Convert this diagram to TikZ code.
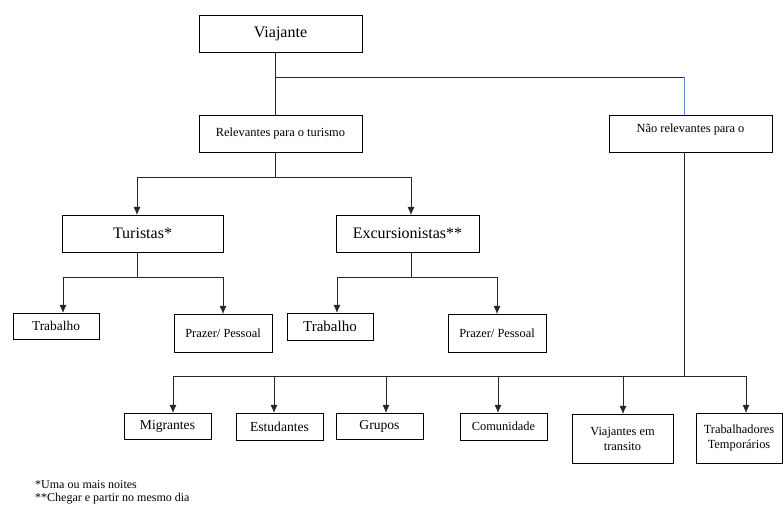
\documentclass[tikz,border=0pt]{standalone}
\usepackage{fontspec}
\setmainfont{Liberation Serif}
\newfontfamily\serifa{Liberation Serif}
\usetikzlibrary{positioning}
\usetikzlibrary{calc}
\usetikzlibrary{arrows.meta}
\definecolor{azul}{RGB}{95,140,215}

\begin{document}
\begin{tikzpicture}[x=1pt,y=-1pt,font=\serifa]
\tikzstyle{caixa}=[rectangle,draw=black,thin,inner sep=1pt,align=center]
\tikzstyle{grande}=[caixa,font=\serifa\fontsize{16}{18}\selectfont]
\tikzstyle{medio}=[caixa,font=\serifa\fontsize{12.4}{15}\selectfont]
\tikzstyle{liga}=[draw=black!85,thin]
\tikzstyle{seta}=[liga,-{Latex[length=8pt,width=7pt]}]
\useasboundingbox (0,0) rectangle (784,506);

% topo
\node[grande,minimum width=163pt,minimum height=37pt](viaj) at (280.5,33.5){Viajante};
\node[medio,minimum width=163pt,minimum height=37pt](rel) at (280.5,133.5){Relevantes para o turismo};
\node[medio,minimum width=163pt,minimum height=37pt,text depth=10pt](nao) at (690.5,133.5){Não relevantes para o};
\coordinate (j1) at (275,77);
\coordinate (j2) at (684,77);
\draw[liga] (viaj.south -| j1)--(rel.north -| j1);
\draw[liga] (j1)--(j2);
\draw[liga,draw=azul] (j2)--(nao.north -| j2);

% relevantes
\node[grande,minimum width=161pt,minimum height=37pt](tur) at (142.5,233.5){Turistas*};
\node[grande,minimum width=143pt,minimum height=37pt](exc) at (407.5,233.5){Excursionistas**};
\coordinate (j3) at (275,177);
\coordinate (j4) at (137,177);
\coordinate (j5) at (411,177);
\draw[liga] (rel.south -| j3)--(j3);
\draw[liga] (j4)--(j5);
\draw[seta] (j4)--(tur.north -| j4);
\draw[seta] (j5)--(exc.north -| j5);

\node[caixa,font=\serifa\fontsize{13.4}{16}\selectfont,minimum width=86pt,minimum height=26pt](trab1) at (56,326){Trabalho};
\node[medio,minimum width=98pt,minimum height=38pt](praz1) at (223,333){Prazer/ Pessoal};
\coordinate (t0) at (137,277);
\coordinate (t1) at (63,277);
\coordinate (t2) at (223,277);
\draw[liga] (tur.south -| t0)--(t0);
\draw[liga] (t1)--(t2);
\draw[seta] (t1)--(trab1.north -| t1);
\draw[seta] (t2)--(praz1.north -| t2);

\node[caixa,font=\serifa\fontsize{15}{18}\selectfont,minimum width=86pt,minimum height=27pt](trab2) at (330,326.5){Trabalho};
\node[medio,minimum width=98pt,minimum height=38pt](praz2) at (497,333){Prazer/ Pessoal};
\coordinate (e0) at (411,277);
\coordinate (e1) at (337,277);
\coordinate (e2) at (497,277);
\draw[liga] (exc.south -| e0)--(e0);
\draw[liga] (e1)--(e2);
\draw[seta] (e1)--(trab2.north -| e1);
\draw[seta] (e2)--(praz2.north -| e2);

% nao relevantes
\node[caixa,font=\serifa\fontsize{13.6}{16}\selectfont,minimum width=87pt,minimum height=26pt](mig) at (167.5,426){Migrantes};
\node[caixa,font=\serifa\fontsize{13.6}{16}\selectfont,minimum width=87pt,minimum height=27pt](est) at (279.5,426.5){Estudantes};
\node[caixa,font=\serifa\fontsize{13.6}{16}\selectfont,minimum width=87pt,minimum height=26pt](gru) at (379.5,426){Grupos};
\node[medio,minimum width=87pt,minimum height=27pt](com) at (503.5,426.5){Comunidade};
\node[medio,minimum width=101pt,minimum height=49pt](tra) at (622.5,438.5){Viajantes em\\transito};
\node[medio,minimum width=86pt,minimum height=50pt](tem) at (739,438){Trabalhadores\\Temporários};
\coordinate (n0) at (684,376);
\coordinate (b1) at (173,376);
\coordinate (b2) at (274,376);
\coordinate (b3) at (386,376);
\coordinate (b4) at (498,376);
\coordinate (b5) at (623,376);
\coordinate (b6) at (746,376);
\draw[liga] (nao.south -| n0)--(n0);
\draw[liga] (b1)--(b6);
\draw[seta] (b1)--(mig.north -| b1);
\draw[seta] (b2)--(est.north -| b2);
\draw[seta] (b3)--(gru.north -| b3);
\draw[seta] (b4)--(com.north -| b4);
\draw[seta] (b5)--(tra.north -| b5);
\draw[seta] (b6)--(tem.north -| b6);

% notas
\node[anchor=north west,align=left,inner sep=0pt,font=\serifa\fontsize{12}{13}\selectfont](nota) at (35,480){*Uma ou mais noites\\**Chegar e partir no mesmo dia};
\end{tikzpicture}
\end{document}
